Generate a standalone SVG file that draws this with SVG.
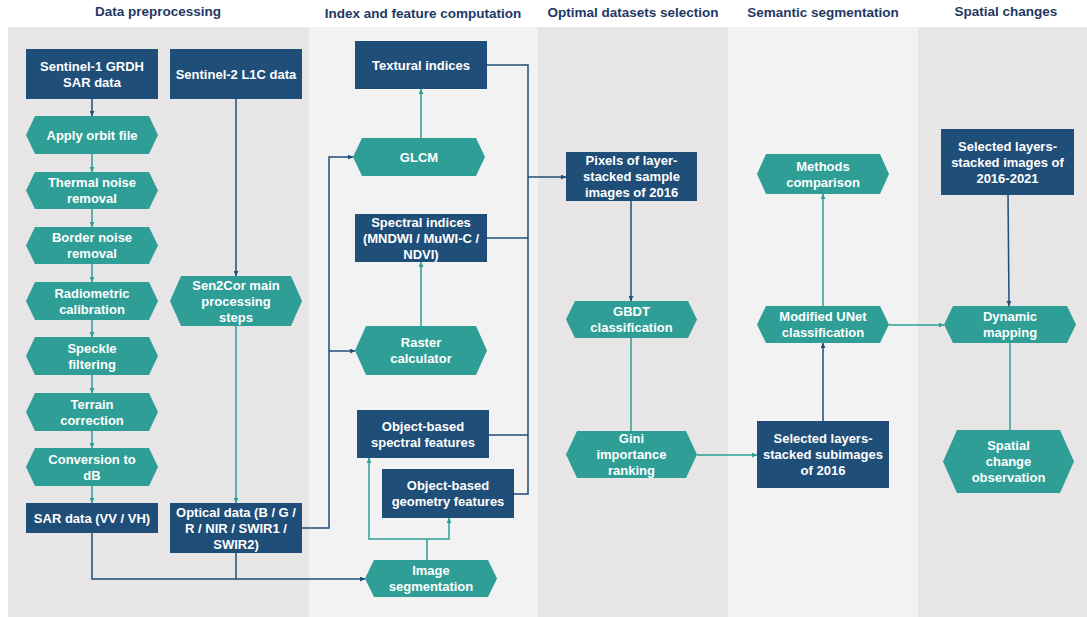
<svg xmlns="http://www.w3.org/2000/svg" width="1087" height="617" viewBox="0 0 1087 617">
<defs>
<marker id="an" viewBox="0 0 10 10" refX="10" refY="5" markerWidth="5" markerHeight="5" markerUnits="userSpaceOnUse" orient="auto"><path d="M0,0 L10,5 L0,10 Z" fill="#1f4e79"/></marker>
<marker id="at" viewBox="0 0 10 10" refX="10" refY="5" markerWidth="5" markerHeight="5" markerUnits="userSpaceOnUse" orient="auto"><path d="M0,0 L10,5 L0,10 Z" fill="#2e9e96"/></marker>
<style>
.hd{font-family:"Liberation Sans",Arial,sans-serif;font-weight:bold;font-size:13.5px;fill:#1f3864;text-anchor:middle}
.t{font-family:"Liberation Sans",Arial,sans-serif;font-weight:bold;font-size:13px;fill:#ffffff;text-anchor:middle}
.bx{fill:#1f4e79}
.hx{fill:#2e9e96}
.cn{fill:none;stroke:#1f4e79;stroke-width:1.5}
.ct{fill:none;stroke:#2e9e96;stroke-width:1.5}
</style>
</defs>
<rect width="1087" height="617" fill="#ffffff"/>
<g id="panels">
<rect x="8" y="27" width="301" height="590" fill="#e7e5e6"/>
<rect x="309" y="27" width="229" height="590" fill="#f2f2f2"/>
<rect x="538" y="27" width="190" height="590" fill="#e7e5e6"/>
<rect x="728" y="27" width="190" height="590" fill="#f2f2f2"/>
<rect x="918" y="27" width="169" height="590" fill="#e7e5e6"/>
</g>
<g id="headers">
<text class="hd" x="158" y="16">Data preprocessing</text>
<text class="hd" x="423" y="18">Index and feature computation</text>
<text class="hd" x="633" y="17">Optimal datasets selection</text>
<text class="hd" x="823" y="17">Semantic segmentation</text>
<text class="hd" x="1006" y="16">Spatial changes</text>
</g>
<g id="connectors">
<path class="cn" d="M92,99 V116" marker-end="url(#an)"/>
<path class="cn" d="M236,99 V276" marker-end="url(#an)"/>
<path class="cn" d="M92,533 V579 H365" marker-end="url(#an)"/>
<path class="cn" d="M236,553 V579"/>
<path class="cn" d="M302,528 H329 V157 H353" marker-end="url(#an)"/>
<path class="cn" d="M329,351 H355" marker-end="url(#an)"/>
<path class="cn" d="M487,65 H528 V494 H514"/>
<path class="cn" d="M487,238 H528"/>
<path class="cn" d="M489,435 H528"/>
<path class="cn" d="M528,177 H566" marker-end="url(#an)"/>
<path class="cn" d="M631,201 V301" marker-end="url(#an)"/>
<path class="cn" d="M823,421 V343" marker-end="url(#an)"/>
<path class="cn" d="M1008,195 L1009,306" marker-end="url(#an)"/>
<path class="ct" d="M92,154 V172" marker-end="url(#at)"/>
<path class="ct" d="M92,209 V227" marker-end="url(#at)"/>
<path class="ct" d="M92,264 V282" marker-end="url(#at)"/>
<path class="ct" d="M92,320 V337" marker-end="url(#at)"/>
<path class="ct" d="M92,375 V393" marker-end="url(#at)"/>
<path class="ct" d="M92,431 V448" marker-end="url(#at)"/>
<path class="ct" d="M92,486 V503" marker-end="url(#at)"/>
<path class="ct" d="M236,326 V503" marker-end="url(#at)"/>
<path class="ct" d="M421,138 V89" marker-end="url(#at)"/>
<path class="ct" d="M421,326 V262" marker-end="url(#at)"/>
<path class="ct" d="M427,560 V539"/>
<path class="ct" d="M427,539 H369 V458" marker-end="url(#at)"/>
<path class="ct" d="M427,539 H449 V518" marker-end="url(#at)"/>
<path class="ct" d="M631,338 V431"/>
<path class="ct" d="M697,455 H757" marker-end="url(#at)"/>
<path class="ct" d="M823,306 V194" marker-end="url(#at)"/>
<path class="ct" d="M889,325 H944" marker-end="url(#at)"/>
<path class="ct" d="M1010,343 V430"/>
</g>
<g id="sentinel1"><rect class="bx" x="26" y="49" width="132" height="50"/><text class="t" x="92" y="70.5">Sentinel-1 GRDH<tspan x="92" dy="16">SAR data</tspan></text></g>
<g id="sentinel2"><rect class="bx" x="170" y="49" width="132" height="50"/><text class="t" x="236" y="78.5">Sentinel-2 L1C data</text></g>
<g id="orbit"><path class="hx" d="M26,135 L35,116 H149 L158,135 L149,154 H35 Z"/><text class="t" x="92" y="139.5">Apply orbit file</text></g>
<g id="thermal"><path class="hx" d="M26,190.5 L35,172 H149 L158,190.5 L149,209 H35 Z"/><text class="t" x="92" y="187">Thermal noise<tspan x="92" dy="16">removal</tspan></text></g>
<g id="border"><path class="hx" d="M26,245.5 L35,227 H149 L158,245.5 L149,264 H35 Z"/><text class="t" x="92" y="242">Border noise<tspan x="92" dy="16">removal</tspan></text></g>
<g id="radiometric"><path class="hx" d="M26,301 L35,282 H149 L158,301 L149,320 H35 Z"/><text class="t" x="92" y="297.5">Radiometric<tspan x="92" dy="16">calibration</tspan></text></g>
<g id="speckle"><path class="hx" d="M26,356 L35,337 H149 L158,356 L149,375 H35 Z"/><text class="t" x="92" y="352.5">Speckle<tspan x="92" dy="16">filtering</tspan></text></g>
<g id="terrain"><path class="hx" d="M26,412 L35,393 H149 L158,412 L149,431 H35 Z"/><text class="t" x="92" y="408.5">Terrain<tspan x="92" dy="16">correction</tspan></text></g>
<g id="conversion"><path class="hx" d="M26,467 L35,448 H149 L158,467 L149,486 H35 Z"/><text class="t" x="92" y="463.5">Conversion to<tspan x="92" dy="16">dB</tspan></text></g>
<g id="sardata"><rect class="bx" x="26" y="503" width="132" height="30"/><text class="t" x="92" y="522.5">SAR data (VV / VH)</text></g>
<g id="sen2cor"><path class="hx" d="M170,301 L181,276 H291 L302,301 L291,326 H181 Z"/><text class="t" x="236" y="289.5">Sen2Cor main<tspan x="236" dy="16">processing</tspan><tspan x="236" dy="16">steps</tspan></text></g>
<g id="optical"><rect class="bx" x="170" y="503" width="132" height="50"/><text class="t" x="236" y="516.5">Optical data (B / G /<tspan x="236" dy="16">R / NIR / SWIR1 /</tspan><tspan x="236" dy="16">SWIR2)</tspan></text></g>
<g id="textural"><rect class="bx" x="355" y="41" width="132" height="48"/><text class="t" x="421" y="69.5">Textural indices</text></g>
<g id="glcm"><path class="hx" d="M353,157 L362,138 H476 L485,157 L476,176 H362 Z"/><text class="t" x="419" y="161.5">GLCM</text></g>
<g id="spectral"><rect class="bx" x="355" y="214" width="132" height="48"/><text class="t" x="421" y="226.5">Spectral indices<tspan x="421" dy="16">(MNDWI / MuWI-C /</tspan><tspan x="421" dy="16">NDVI)</tspan></text></g>
<g id="raster"><path class="hx" d="M355,350.5 L366,326 H476 L487,350.5 L476,375 H366 Z"/><text class="t" x="421" y="347">Raster<tspan x="421" dy="16">calculator</tspan></text></g>
<g id="objspectral"><rect class="bx" x="357" y="410" width="132" height="48"/><text class="t" x="423" y="430.5">Object-based<tspan x="423" dy="16">spectral features</tspan></text></g>
<g id="objgeometry"><rect class="bx" x="382" y="469" width="132" height="49"/><text class="t" x="448" y="490">Object-based<tspan x="448" dy="16">geometry features</tspan></text></g>
<g id="imgseg"><path class="hx" d="M365,578.5 L374,560 H488 L497,578.5 L488,597 H374 Z"/><text class="t" x="431" y="575">Image<tspan x="431" dy="16">segmentation</tspan></text></g>
<g id="pixels"><rect class="bx" x="566" y="152" width="131" height="49"/><text class="t" x="631.5" y="165">Pixels of layer-<tspan x="631.5" dy="16">stacked sample</tspan><tspan x="631.5" dy="16">images of 2016</tspan></text></g>
<g id="gbdt"><path class="hx" d="M566,319.5 L575,301 H688 L697,319.5 L688,338 H575 Z"/><text class="t" x="631.5" y="316">GBDT<tspan x="631.5" dy="16">classification</tspan></text></g>
<g id="gini"><path class="hx" d="M566,454.5 L577,431 H686 L697,454.5 L686,478 H577 Z"/><text class="t" x="631.5" y="443">Gini<tspan x="631.5" dy="16">importance</tspan><tspan x="631.5" dy="16">ranking</tspan></text></g>
<g id="methods"><path class="hx" d="M757,174 L766,154 H880 L889,174 L880,194 H766 Z"/><text class="t" x="823" y="170.5">Methods<tspan x="823" dy="16">comparison</tspan></text></g>
<g id="unet"><path class="hx" d="M757,324.5 L766,306 H880 L889,324.5 L880,343 H766 Z"/><text class="t" x="823" y="321">Modified UNet<tspan x="823" dy="16">classification</tspan></text></g>
<g id="selsub"><rect class="bx" x="757" y="421" width="132" height="67"/><text class="t" x="823" y="443">Selected layers-<tspan x="823" dy="16">stacked subimages</tspan><tspan x="823" dy="16">of 2016</tspan></text></g>
<g id="selimg"><rect class="bx" x="941" y="129" width="133" height="66"/><text class="t" x="1007.5" y="150.5">Selected layers-<tspan x="1007.5" dy="16">stacked images of</tspan><tspan x="1007.5" dy="16">2016-2021</tspan></text></g>
<g id="dynamic"><path class="hx" d="M944,324.5 L953,306 H1067 L1076,324.5 L1067,343 H953 Z"/><text class="t" x="1010" y="321">Dynamic<tspan x="1010" dy="16">mapping</tspan></text></g>
<g id="spatialchange"><path class="hx" d="M943,461.5 L957,430 H1060 L1074,461.5 L1060,493 H957 Z"/><text class="t" x="1008.5" y="450">Spatial<tspan x="1008.5" dy="16">change</tspan><tspan x="1008.5" dy="16">observation</tspan></text></g>
</svg>
